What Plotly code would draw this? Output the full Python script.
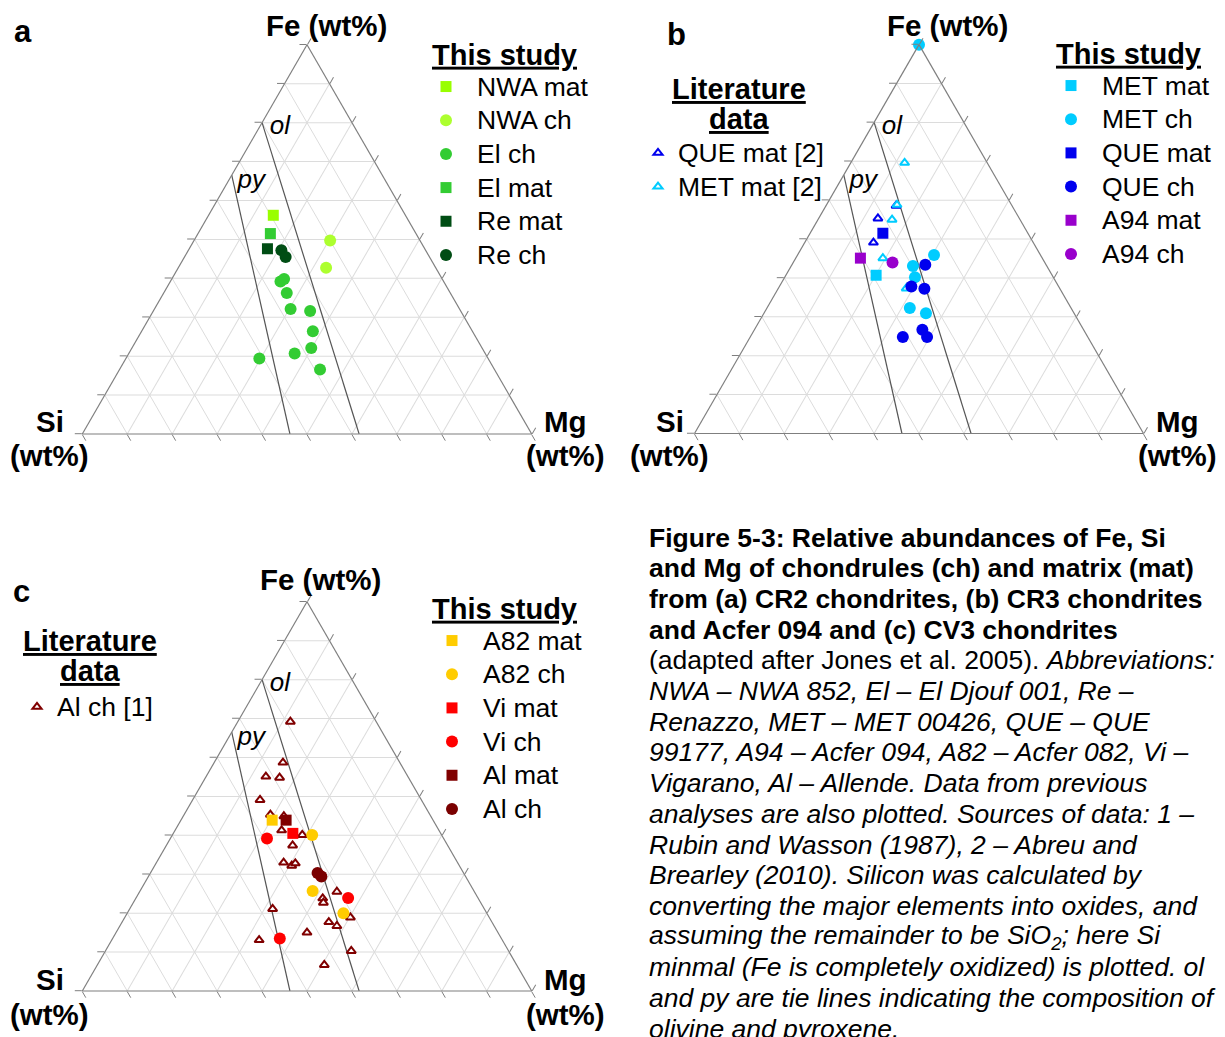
import plotly.graph_objects as go

W, H = 1225, 1037
FONT = "Liberation Sans, Arial, sans-serif"

# ---------------- (a) CR2 chondrites: Fe / Si / Mg (wt%, normalised to 100)
nwa_mat_fe, nwa_mat_si, nwa_mat_mg = [56.2], [29.4], [14.4]
nwa_ch_fe, nwa_ch_si, nwa_ch_mg = [49.7, 42.7], [20.0, 24.4], [30.3, 32.9]
el_ch_fe = [39.2, 39.8, 36.2, 32.1, 31.6, 26.4, 22.1, 20.7, 19.4, 16.6]
el_ch_si = [36.3, 35.2, 36.4, 37.6, 33.5, 35.5, 38.0, 42.4, 50.9, 38.8]
el_ch_mg = [24.5, 25.0, 27.4, 30.3, 34.9, 38.1, 39.9, 36.9, 29.7, 44.6]
el_mat_fe, el_mat_si, el_mat_mg = [51.5], [32.4], [16.1]
re_mat_fe, re_mat_si, re_mat_mg = [47.6], [35.0], [17.4]
re_ch_fe, re_ch_si, re_ch_mg = [47.2, 45.5], [32.1, 32.0], [20.7, 22.5]

# ---------------- (b) CR3 chondrites and Acfer 094
que_lit_fe, que_lit_si, que_lit_mg = [55.3, 49.1, 58.6], [31.5, 35.6, 25.8], [13.2, 15.3, 15.6]
met_lit_fe = [69.6, 58.8, 55.0, 45.1, 37.3]
met_lit_si = [18.4, 25.5, 28.5, 35.5, 34.2]
met_lit_mg = [12.0, 15.7, 16.5, 19.4, 28.5]
met_mat_fe, met_mat_si, met_mat_mg = [40.7], [39.2], [20.1]
met_ch_fe = [100.0, 45.9, 43.1, 40.2, 32.3, 30.9]
met_ch_si = [0.0, 23.7, 29.8, 30.8, 35.9, 33.0]
met_ch_mg = [0.0, 30.4, 27.1, 29.0, 31.8, 36.1]
que_mat_fe, que_mat_si, que_mat_mg = [51.5], [32.3], [16.2]
que_ch_fe = [43.4, 37.8, 37.2, 26.7, 24.8, 24.8]
que_ch_si = [26.9, 32.8, 30.2, 35.9, 35.8, 41.2]
que_ch_mg = [29.7, 29.4, 32.6, 37.4, 39.4, 34.0]
a94_mat_fe, a94_mat_si, a94_mat_mg = [45.1], [40.5], [14.4]
a94_ch_fe, a94_ch_si, a94_ch_mg = [44.0], [33.9], [22.1]

# ---------------- (c) CV3 chondrites
al_lit_fe = [69.2, 58.7, 55.1, 54.8, 49.1, 45.3, 44.9, 41.3, 40.1, 37.4, 33.0, 32.2,
             32.8, 25.5, 23.8, 22.7, 21.1, 18.9, 17.7, 16.7, 15.0, 13.1, 10.3, 6.7]
al_lit_si = [19.1, 26.0, 31.6, 28.7, 35.9, 35.5, 32.7, 35.0, 31.0, 34.5, 38.7, 37.3,
             36.2, 30.6, 34.6, 35.0, 47.1, 30.9, 36.3, 35.0, 42.5, 54.1, 35.0, 42.8]
al_lit_mg = [11.7, 15.3, 13.3, 16.5, 15.0, 19.2, 22.4, 23.7, 28.9, 28.1, 28.3, 30.5,
             31.0, 43.9, 41.6, 42.3, 31.8, 50.2, 46.0, 48.3, 42.5, 32.8, 54.7, 50.5]
a82_mat_fe, a82_mat_si, a82_mat_mg = [43.9], [35.8], [20.3]
a82_ch_fe, a82_ch_si, a82_ch_mg = [40.1, 25.7, 20.0], [28.8, 35.9, 31.9], [31.1, 38.4, 48.1]
vi_mat_fe, vi_mat_si, vi_mat_mg = [40.5], [32.9], [26.6]
vi_ch_fe, vi_ch_si, vi_ch_mg = [39.2, 23.9, 13.5], [39.3, 28.9, 49.3], [21.5, 47.2, 37.2]
al_mat_fe, al_mat_si, al_mat_mg = [43.9], [32.7], [23.4]
al_ch_fe, al_ch_si, al_ch_mg = [30.3, 29.4], [32.5, 32.1], [37.2, 38.5]

# ---------------- olivine and pyroxene tie lines (Fe, Si, Mg end members)
ol_fe, ol_si, ol_mg = [80.0, 0.0], [20.0, 38.4], [0.0, 61.6]
py_fe, py_si, py_mg = [66.5, 0.0], [33.5, 53.8], [0.0, 46.2]
tie_names = ["ol", "py"]
tie_label_fe, tie_label_si, tie_label_mg = [78.7, 64.8], [16.7, 30.0], [4.6, 5.2]

fig = go.Figure()


def px_x(v):
    return v / W


def px_y(v):
    return 1 - v / H


AX = dict(showticklabels=False, ticks="outside", ticklen=7, tickwidth=1,
          tickcolor="#7f7f7f", linecolor="#7f7f7f", linewidth=1.2,
          showline=True, showgrid=True, gridcolor="#dcdcdc", gridwidth=1.3,
          tickmode="linear", tick0=0, dtick=10, min=0, title=dict(text=""))


def ternary(x0, x1, ybottom):
    side = x1 - x0
    height = side * 3 ** 0.5 / 2
    return dict(domain=dict(x=[px_x(x0), px_x(x1)],
                            y=[px_y(ybottom), px_y(ybottom - height)]),
                sum=100, bgcolor="white", aaxis=AX, baxis=AX, caxis=AX)


def tie_lines(sub):
    for fe, si, mg in [(ol_fe, ol_si, ol_mg), (py_fe, py_si, py_mg)]:
        fig.add_trace(go.Scatterternary(a=fe, b=si, c=mg, subplot=sub, mode="lines",
                                        line=dict(color="#555555", width=1.2),
                                        showlegend=False, hoverinfo="skip"))
    fig.add_trace(go.Scatterternary(a=tie_label_fe, b=tie_label_si, c=tie_label_mg,
                                    subplot=sub, mode="text",
                                    text=["<i>%s</i>" % t for t in tie_names],
                                    textfont=dict(family=FONT, size=26, color="black"),
                                    cliponaxis=False, showlegend=False, hoverinfo="skip"))


def points(sub, leg, name, fe, si, mg, symbol, color, size=12, lit=False):
    if lit:
        marker = dict(symbol="triangle-up", size=8, color="white",
                      line=dict(color=color, width=2))
    else:
        marker = dict(symbol=symbol, size=size, color=color, line=dict(width=0))
    fig.add_trace(go.Scatterternary(
        a=fe, b=si, c=mg, subplot=sub, mode="markers", marker=marker,
        name='<span style="font-size:26.5px">%s</span>' % name,
        legend=leg, legendgroup=leg + name, cliponaxis=False))


SQ, CI = "square", "circle"

# panel a
tie_lines("ternary")
points("ternary", "legend", "NWA mat", nwa_mat_fe, nwa_mat_si, nwa_mat_mg, SQ, "#99ff00", 11)
points("ternary", "legend", "NWA ch", nwa_ch_fe, nwa_ch_si, nwa_ch_mg, CI, "#adff2f")
points("ternary", "legend", "El ch", el_ch_fe, el_ch_si, el_ch_mg, CI, "#33cc33")
points("ternary", "legend", "El mat", el_mat_fe, el_mat_si, el_mat_mg, SQ, "#33cc33", 11)
points("ternary", "legend", "Re mat", re_mat_fe, re_mat_si, re_mat_mg, SQ, "#004d14", 11)
points("ternary", "legend", "Re ch", re_ch_fe, re_ch_si, re_ch_mg, CI, "#004d14")

# panel b
tie_lines("ternary2")
points("ternary2", "legend2", "QUE mat [2]", que_lit_fe, que_lit_si, que_lit_mg, None, "#0000ee", lit=True)
points("ternary2", "legend2", "MET mat [2]", met_lit_fe, met_lit_si, met_lit_mg, None, "#00ccff", lit=True)
points("ternary2", "legend3", "MET mat", met_mat_fe, met_mat_si, met_mat_mg, SQ, "#00ccff", 11)
points("ternary2", "legend3", "MET ch", met_ch_fe, met_ch_si, met_ch_mg, CI, "#00ccff")
points("ternary2", "legend3", "QUE mat", que_mat_fe, que_mat_si, que_mat_mg, SQ, "#0000ee", 11)
points("ternary2", "legend3", "QUE ch", que_ch_fe, que_ch_si, que_ch_mg, CI, "#0000ee")
points("ternary2", "legend3", "A94 mat", a94_mat_fe, a94_mat_si, a94_mat_mg, SQ, "#9900cc", 11)
points("ternary2", "legend3", "A94 ch", a94_ch_fe, a94_ch_si, a94_ch_mg, CI, "#9900cc")

# panel c
tie_lines("ternary3")
points("ternary3", "legend4", "Al ch [1]", al_lit_fe, al_lit_si, al_lit_mg, None, "#800000", lit=True)
points("ternary3", "legend5", "A82 mat", a82_mat_fe, a82_mat_si, a82_mat_mg, SQ, "#ffcc00", 11)
points("ternary3", "legend5", "A82 ch", a82_ch_fe, a82_ch_si, a82_ch_mg, CI, "#ffcc00")
points("ternary3", "legend5", "Vi mat", vi_mat_fe, vi_mat_si, vi_mat_mg, SQ, "#ff0000", 11)
points("ternary3", "legend5", "Vi ch", vi_ch_fe, vi_ch_si, vi_ch_mg, CI, "#ff0000")
points("ternary3", "legend5", "Al mat", al_mat_fe, al_mat_si, al_mat_mg, SQ, "#800000", 11)
points("ternary3", "legend5", "Al ch", al_ch_fe, al_ch_si, al_ch_mg, CI, "#7a0000")


def legend(x, ytop, itemwidth, title=None):
    leg = dict(x=px_x(x), xanchor="left", y=px_y(ytop), yanchor="top",
               bgcolor="rgba(0,0,0,0)", borderwidth=0, itemwidth=itemwidth,
               tracegroupgap=0, font=dict(family=FONT, size=23.6, color="black"),
               itemclick=False, itemdoubleclick=False)
    if title:
        leg["title"] = dict(text="<b><u>%s</u></b>" % title, side="top center",
                            font=dict(family=FONT, size=29, color="black"))
    return leg


annotations = []


def text(s, x, y, size, xanchor="center"):
    annotations.append(dict(text=s, x=px_x(x), y=px_y(y), xref="paper", yref="paper",
                            xanchor=xanchor, yanchor="middle", showarrow=False,
                            font=dict(family=FONT, size=size, color="black")))


# panel letters and corner labels
text("<b>a</b>", 23, 31, 31)
text("<b>b</b>", 676, 35, 31)
text("<b>c</b>", 21, 591, 31)
for fx, fy in [(326.5, 25), (947, 25), (320.5, 579)]:
    text("<b>Fe (wt%)</b>", fx, fy, 29.5)
for sx, mx, by in [(50, 565, 432), (669.5, 1177, 432), (50, 565, 990)]:
    text("<b>Si</b>", sx, by - 11, 29.5)
    text("<b>(wt%)</b>", sx, by + 24, 29.5)
    text("<b>Mg</b>", mx, by - 11, 29.5)
    text("<b>(wt%)</b>", mx, by + 24, 29.5)

# headings of the literature legends
for lx, ly in [(739, 89), (90, 641)]:
    text("<b><u>Literature</u></b>", lx, ly, 29)
    text("<b><u>data</u></b>", lx, ly + 30, 29)

caption = [
    "<b>Figure 5-3: Relative abundances of Fe, Si</b>",
    "<b>and Mg of chondrules (ch) and matrix (mat)</b>",
    "<b>from (a) CR2 chondrites, (b) CR3 chondrites</b>",
    "<b>and Acfer 094 and (c) CV3 chondrites</b>",
    "(adapted after Jones et al. 2005). <i>Abbreviations:</i>",
    "<i>NWA – NWA 852, El – El Djouf 001, Re –</i>",
    "<i>Renazzo, MET – MET 00426, QUE – QUE</i>",
    "<i>99177, A94 – Acfer 094, A82 – Acfer 082, Vi –</i>",
    "<i>Vigarano, Al – Allende. Data from previous</i>",
    "<i>analyses are also plotted. Sources of data: 1 –</i>",
    "<i>Rubin and Wasson (1987), 2 – Abreu and</i>",
    "<i>Brearley (2010). Silicon was calculated by</i>",
    "<i>converting the major elements into oxides, and</i>",
    "<i>assuming the remainder to be SiO<sub>2</sub>; here Si</i>",
    "<i>minmal (Fe is completely oxidized) is plotted. ol</i>",
    "<i>and py are tie lines indicating the composition of</i>",
    "<i>olivine and pyroxene.</i>",
]
for i, line in enumerate(caption):
    text(line, 647, 537.5 + 30.7 * i, 26.5, xanchor="left")

fig.update_layout(
    width=W, height=H, autosize=False,
    margin=dict(l=0, r=0, t=0, b=0),
    paper_bgcolor="white", plot_bgcolor="white",
    font=dict(family=FONT, color="black"),
    ternary=ternary(82.3, 531.7, 434),
    ternary2=ternary(694.5, 1143.5, 433.5),
    ternary3=ternary(82.3, 531.7, 991),
    legend=legend(415, 27, 52, "This study"),
    legend2=legend(638, 131, 30),
    legend3=legend(1040, 26, 52, "This study"),
    legend4=legend(17, 685, 30),
    legend5=legend(421, 581, 52, "This study"),
    annotations=annotations,
    showlegend=True,
)

fig.write_html("out.html")
